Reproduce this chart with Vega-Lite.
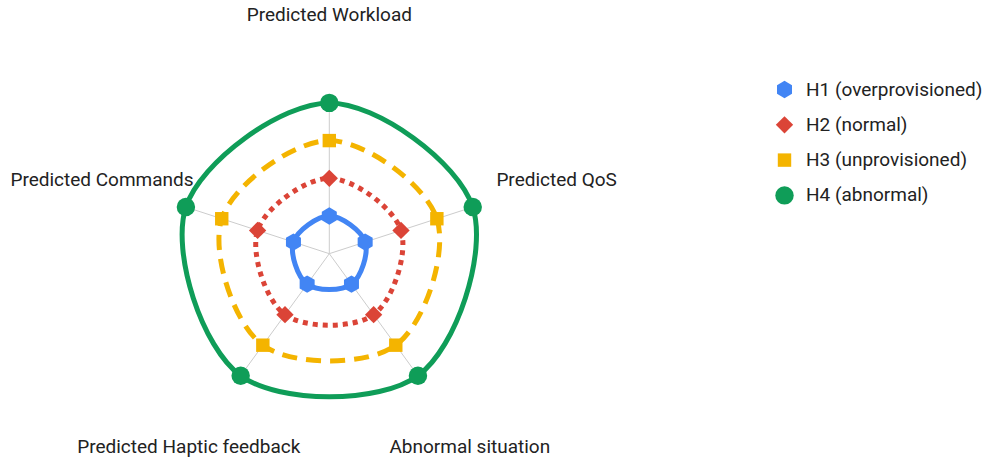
{
  "$schema": "https://vega.github.io/schema/vega-lite/v6.json",
  "width": 988,
  "height": 461,
  "padding": 0,
  "autosize": {"type": "none"},
  "background": "white",
  "config": {"view": {"stroke": null}, "font": "Roboto"},
  "data": {
    "values": [
      {"series": "H1 (overprovisioned)", "axis": "Predicted Workload", "idx": 0, "value": 1},
      {"series": "H1 (overprovisioned)", "axis": "Predicted QoS", "idx": 1, "value": 1},
      {"series": "H1 (overprovisioned)", "axis": "Abnormal situation", "idx": 2, "value": 1},
      {"series": "H1 (overprovisioned)", "axis": "Predicted Haptic feedback", "idx": 3, "value": 1},
      {"series": "H1 (overprovisioned)", "axis": "Predicted Commands", "idx": 4, "value": 1},
      {"series": "H2 (normal)", "axis": "Predicted Workload", "idx": 0, "value": 2},
      {"series": "H2 (normal)", "axis": "Predicted QoS", "idx": 1, "value": 2},
      {"series": "H2 (normal)", "axis": "Abnormal situation", "idx": 2, "value": 2},
      {"series": "H2 (normal)", "axis": "Predicted Haptic feedback", "idx": 3, "value": 2},
      {"series": "H2 (normal)", "axis": "Predicted Commands", "idx": 4, "value": 2},
      {"series": "H3 (unprovisioned)", "axis": "Predicted Workload", "idx": 0, "value": 3},
      {"series": "H3 (unprovisioned)", "axis": "Predicted QoS", "idx": 1, "value": 3},
      {"series": "H3 (unprovisioned)", "axis": "Abnormal situation", "idx": 2, "value": 3},
      {"series": "H3 (unprovisioned)", "axis": "Predicted Haptic feedback", "idx": 3, "value": 3},
      {"series": "H3 (unprovisioned)", "axis": "Predicted Commands", "idx": 4, "value": 3},
      {"series": "H4 (abnormal)", "axis": "Predicted Workload", "idx": 0, "value": 4},
      {"series": "H4 (abnormal)", "axis": "Predicted QoS", "idx": 1, "value": 4},
      {"series": "H4 (abnormal)", "axis": "Abnormal situation", "idx": 2, "value": 4},
      {"series": "H4 (abnormal)", "axis": "Predicted Haptic feedback", "idx": 3, "value": 4},
      {"series": "H4 (abnormal)", "axis": "Predicted Commands", "idx": 4, "value": 4}
    ]
  },
  "transform": [
    {"calculate": "datum.idx * 2 * PI / 5", "as": "angle"},
    {"calculate": "datum.value * sin(datum.angle)", "as": "px"},
    {"calculate": "datum.value * cos(datum.angle)", "as": "py"},
    {"calculate": "6.34 * sin(datum.angle)", "as": "lx"},
    {"calculate": "6.34 * cos(datum.angle)", "as": "ly"},
    {"calculate": "0", "as": "zero"}
  ],
  "layer": [
    {
      "transform": [{"filter": "datum.value == 4"}],
      "mark": {"type": "rule", "color": "#cccccc", "strokeWidth": 1},
      "encoding": {
        "x": {"field": "zero", "type": "quantitative", "scale": {"domain": [-8.735, 17.472], "nice": false, "zero": false}, "axis": null},
        "y": {"field": "zero", "type": "quantitative", "scale": {"domain": [-5.499, 6.729], "nice": false, "zero": false}, "axis": null},
        "x2": {"field": "px"},
        "y2": {"field": "py"}
      }
    },
    {
      "transform": [{"filter": "datum.series == 'H4 (abnormal)'"}],
      "mark": {"type": "line", "interpolate": "cardinal-closed", "strokeWidth": 5, "color": "#0F9D58"},
      "encoding": {
        "x": {"field": "px", "type": "quantitative"},
        "y": {"field": "py", "type": "quantitative"},
        "order": {"field": "idx", "type": "quantitative"}
      }
    },
    {
      "transform": [{"filter": "datum.series == 'H3 (unprovisioned)'"}],
      "mark": {"type": "line", "interpolate": "cardinal-closed", "strokeWidth": 5, "color": "#F4B400", "strokeDash": [15, 9], "strokeCap": "butt"},
      "encoding": {
        "x": {"field": "px", "type": "quantitative"},
        "y": {"field": "py", "type": "quantitative"},
        "order": {"field": "idx", "type": "quantitative"}
      }
    },
    {
      "transform": [{"filter": "datum.series == 'H2 (normal)'"}],
      "mark": {"type": "line", "interpolate": "cardinal-closed", "strokeWidth": 5, "color": "#DB4437", "strokeDash": [5, 5], "strokeCap": "butt"},
      "encoding": {
        "x": {"field": "px", "type": "quantitative"},
        "y": {"field": "py", "type": "quantitative"},
        "order": {"field": "idx", "type": "quantitative"}
      }
    },
    {
      "transform": [{"filter": "datum.series == 'H1 (overprovisioned)'"}],
      "mark": {"type": "line", "interpolate": "cardinal-closed", "strokeWidth": 5, "color": "#4285F4"},
      "encoding": {
        "x": {"field": "px", "type": "quantitative"},
        "y": {"field": "py", "type": "quantitative"},
        "order": {"field": "idx", "type": "quantitative"}
      }
    },
    {
      "mark": {"type": "point", "filled": true, "opacity": 1},
      "encoding": {
        "x": {"field": "px", "type": "quantitative"},
        "y": {"field": "py", "type": "quantitative"},
        "color": {"field": "series", "type": "nominal",
          "scale": {"domain": ["H1 (overprovisioned)", "H2 (normal)", "H3 (unprovisioned)", "H4 (abnormal)"], "range": ["#4285F4", "#DB4437", "#F4B400", "#0F9D58"]},
          "legend": {"title": null, "orient": "none", "legendX": 775, "legendY": 80, "padding": 0, "labelFontSize": 19, "labelColor": "#222222", "labelFont": "Roboto", "labelLimit": 400, "rowPadding": 15.3, "labelOffset": 12, "symbolStrokeWidth": 0, "symbolOpacity": 1}},
        "shape": {"field": "series", "type": "nominal",
          "scale": {"domain": ["H1 (overprovisioned)", "H2 (normal)", "H3 (unprovisioned)", "H4 (abnormal)"], "range": ["M0,-1L0.866,-0.5L0.866,0.5L0,1L-0.866,0.5L-0.866,-0.5Z", "diamond", "square", "circle"]}},
        "size": {"field": "series", "type": "nominal",
          "scale": {"type": "ordinal", "domain": ["H1 (overprovisioned)", "H2 (normal)", "H3 (unprovisioned)", "H4 (abnormal)"], "range": [300, 300, 180, 340]}}
      }
    },
    {
      "transform": [{"filter": "datum.value == 4"}],
      "mark": {"type": "text", "fontSize": 19, "font": "Roboto", "color": "#222222", "align": "center", "baseline": "middle"},
      "encoding": {
        "x": {"field": "lx", "type": "quantitative"},
        "y": {"field": "ly", "type": "quantitative"},
        "text": {"field": "axis"}
      }
    }
  ]
}
